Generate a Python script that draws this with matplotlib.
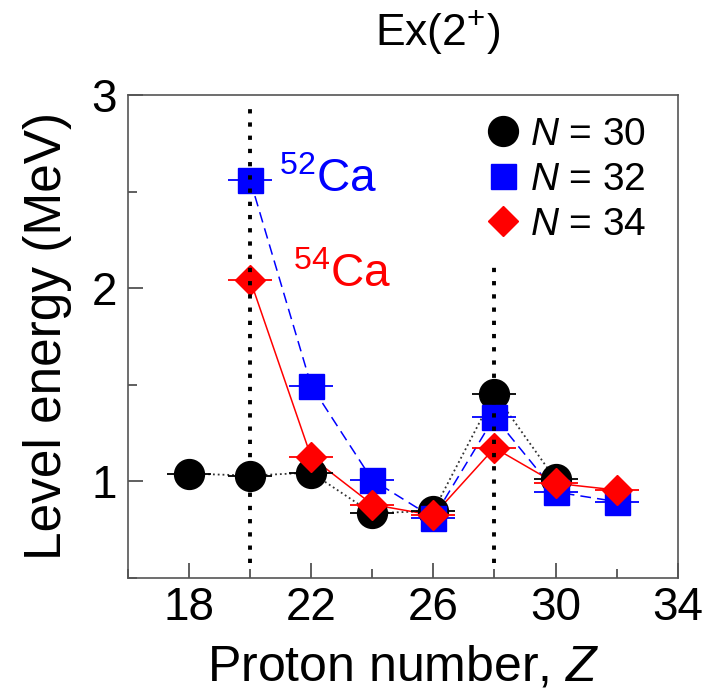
import numpy as np
import matplotlib
matplotlib.use("Agg")
import matplotlib.pyplot as plt
from matplotlib.lines import Line2D
from matplotlib.ticker import MultipleLocator

plt.rcParams['font.family'] = ['Liberation Sans', 'DejaVu Sans']
plt.rcParams['mathtext.fontset'] = 'custom'
plt.rcParams['mathtext.rm'] = 'Liberation Sans'
plt.rcParams['mathtext.it'] = 'Liberation Sans:italic'

# E(2+) energies (MeV) vs proton number
z_n30 = [18, 20, 22, 24, 26, 28, 30]
e_n30 = [1.04, 1.03, 1.045, 0.835, 0.847, 1.454, 1.01]
z_n32 = [20, 22, 24, 26, 28, 30, 32]
e_n32 = [2.56, 1.495, 1.007, 0.811, 1.333, 0.945, 0.895]
z_n34 = [20, 22, 24, 26, 28, 30, 32]
e_n34 = [2.043, 1.125, 0.88, 0.824, 1.173, 0.99, 0.955]

# magic numbers (vertical dotted lines)
magic_z = [20, 28]
magic_top = [2.93, 2.15]
magic_bottom = 0.58

labels = [r'$N$ = 30', r'$N$ = 32', r'$N$ = 34']

fig = plt.figure(figsize=(7.21, 6.93), dpi=100)
ax = fig.add_axes([0.1775, 0.166, 0.7625, 0.697])

xe = 0.72
ax.errorbar(z_n30, e_n30, xerr=xe, fmt='o', color='black', ms=21.5,
            elinewidth=1.3, capsize=0, zorder=3)
ax.plot(z_n30, e_n30, ':', color='#333333', lw=1.3, zorder=2)

ax.errorbar(z_n32, e_n32, xerr=xe, fmt='s', color='#0000ff', ms=18,
            elinewidth=1.3, capsize=0, zorder=4)
ax.plot(z_n32, e_n32, color='#0000ff', lw=1.1, linestyle=(0, (7, 4)), zorder=2)

ax.errorbar(z_n34, e_n34, xerr=xe, fmt='D', color='#ff0000', ms=15.5,
            elinewidth=1.3, capsize=0, zorder=5)
ax.plot(z_n34, e_n34, color='#ff0000', lw=1.1, zorder=2)

for zm, top in zip(magic_z, magic_top):
    ax.plot([zm, zm], [magic_bottom, top], color='black', lw=2.8,
            linestyle=(0, (1.1, 2.3)), zorder=6)

ax.text(20.94, 2.498, r'$^{52}$Ca', color='#0000ff', fontsize=33, va='baseline')
ax.text(21.40, 2.006, r'$^{54}$Ca', color='#ff0000', fontsize=33, va='baseline')

ax.set_xlim(16, 34)
ax.set_ylim(0.5, 3)
ax.xaxis.set_minor_locator(MultipleLocator(2))
ax.set_xticks([18, 22, 26, 30, 34])
ax.yaxis.set_major_locator(MultipleLocator(1))
ax.yaxis.set_minor_locator(MultipleLocator(0.5))
ax.tick_params(which='both', direction='in', color='#444444', width=1.2,
               top=False, right=False, labelsize=33)
ax.tick_params(which='major', length=11)
ax.tick_params(which='minor', length=6.5)
ax.tick_params(axis='x', pad=6)
ax.tick_params(axis='y', pad=8)
for sp in ax.spines.values():
    sp.set_color('#555555')
    sp.set_linewidth(1.2)

ax.set_xlabel(r'Proton number, $Z$', fontsize=36, labelpad=10)
ax.set_ylabel('Level energy (MeV)', fontsize=37, labelpad=14)

handles = [
    Line2D([], [], marker='o', color='black', ms=21.5, ls='none'),
    Line2D([], [], marker='s', color='#0000ff', ms=18, ls='none'),
    Line2D([], [], marker='D', color='#ff0000', ms=15.5, ls='none'),
]
ax.legend(handles, labels, loc='upper left', bbox_to_anchor=(0.646, 0.955),
          frameon=False, fontsize=28, borderpad=0, handlelength=1,
          handletextpad=0.2, labelspacing=0.23, borderaxespad=0)

fig.text(0.607, 0.935, r'Ex(2$^{+}$)', fontsize=32, ha='center', va='baseline')

fig.savefig('out.png', dpi=100)
